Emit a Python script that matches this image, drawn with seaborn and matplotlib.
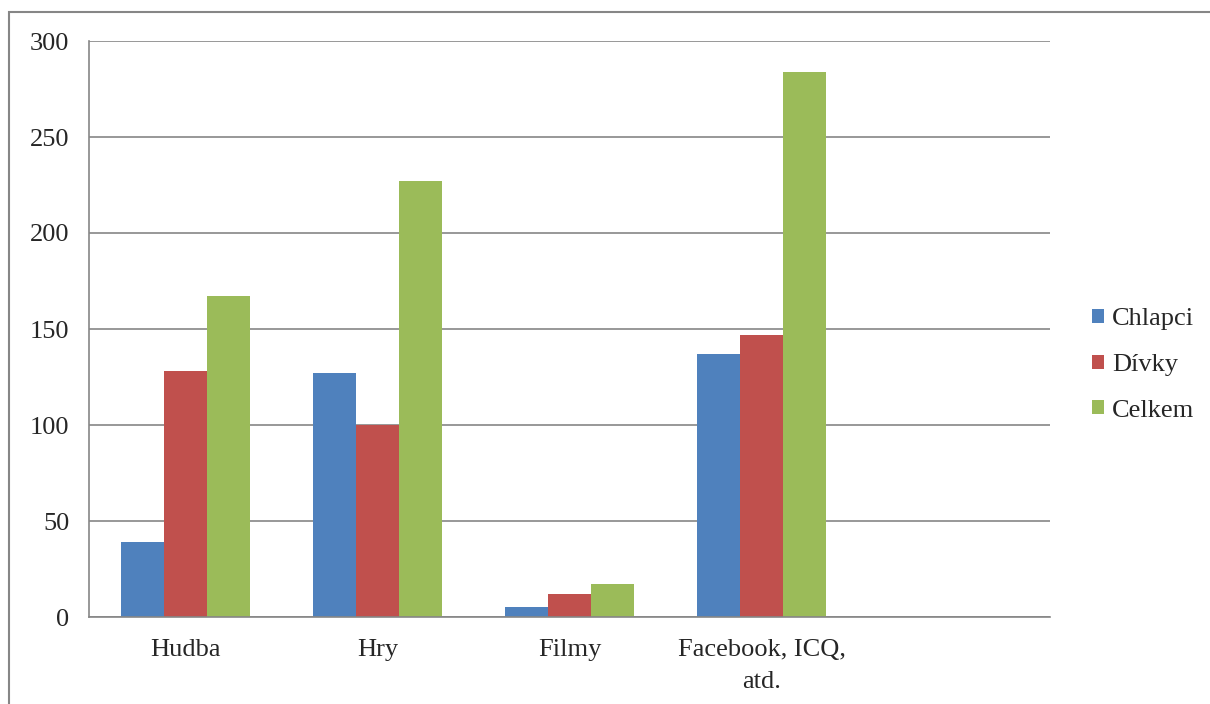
import pandas as pd
import matplotlib.pyplot as plt
import seaborn as sns
from matplotlib.patches import Rectangle

# chart values
categories = ['Hudba', 'Hry', 'Filmy', 'Facebook, ICQ,\natd.', '']
series = ['Chlapci', 'Dívky', 'Celkem']
chlapci = [39, 127, 5, 137, None]
divky = [128, 100, 12, 147, None]
celkem = [167, 227, 17, 284, None]
colors = ['#4F81BD', '#C0504D', '#9BBB59']
y_ticks = [0, 50, 100, 150, 200, 250, 300]


def build_frame():
    """long format table for seaborn"""
    rows = []
    for name, vals in zip(series, [chlapci, divky, celkem]):
        for cat, v in zip(categories, vals):
            rows.append({'kategorie': cat, 'skupina': name, 'pocet': v})
    return pd.DataFrame(rows)


def plot_chart(df):
    sns.set_style('white')
    plt.rcParams['font.family'] = ['Liberation Serif', 'DejaVu Serif']
    grid_col = '#868686'

    fig = plt.figure(figsize=(12.1, 7.04), dpi=100)
    ax = fig.add_axes([89 / 1210, 87 / 704, 961 / 1210, 576 / 704])

    sns.barplot(data=df, x='kategorie', y='pocet', hue='skupina', order=categories,
                hue_order=series, palette=colors, width=0.672, gap=0, saturation=1,
                errorbar=None, ax=ax, linewidth=0)

    ax.set_xlim(-0.5, len(categories) - 0.5)
    ax.set_ylim(0, 300)
    ax.set_yticks(y_ticks)
    ax.set_yticklabels([str(t) for t in y_ticks], fontsize=19)
    ax.yaxis.grid(True, color=grid_col, linewidth=1.2)
    ax.set_axisbelow(True)

    # category labels in the middle, tick marks on the boundaries
    ax.set_xticks([i - 0.5 for i in range(len(categories) + 1)])
    ax.set_xticklabels([])
    ax.set_xticks(range(len(categories)), minor=True)
    ax.set_xticklabels(categories, minor=True, fontsize=19, linespacing=1.6)
    ax.tick_params(axis='x', which='minor', length=0, pad=16)
    ax.tick_params(axis='x', which='major', length=7, width=1.2, color=grid_col, direction='out')
    ax.tick_params(axis='y', length=6, width=1.2, color=grid_col, direction='out', pad=8)
    ax.set_xlabel('')
    ax.set_ylabel('')

    for side in ['top', 'right']:
        ax.spines[side].set_visible(False)
    for side in ['left', 'bottom']:
        ax.spines[side].set_color(grid_col)
        ax.spines[side].set_linewidth(1.2)

    ax.legend(loc='center left', bbox_to_anchor=(1.025, 0.4375), frameon=False, fontsize=19,
              handlelength=0.45, handleheight=0.45, handletextpad=0.3, labelspacing=0.9,
              borderpad=0.2)

    # outer chart frame
    fig.patches.append(Rectangle((9 / 1210, -0.05), 1.1, (704 - 12) / 704 + 0.05,
                                 transform=fig.transFigure, fill=False,
                                 edgecolor=grid_col, linewidth=1.5))

    fig.savefig('out.png', dpi=100)


if __name__ == "__main__":
    plot_chart(build_frame())
